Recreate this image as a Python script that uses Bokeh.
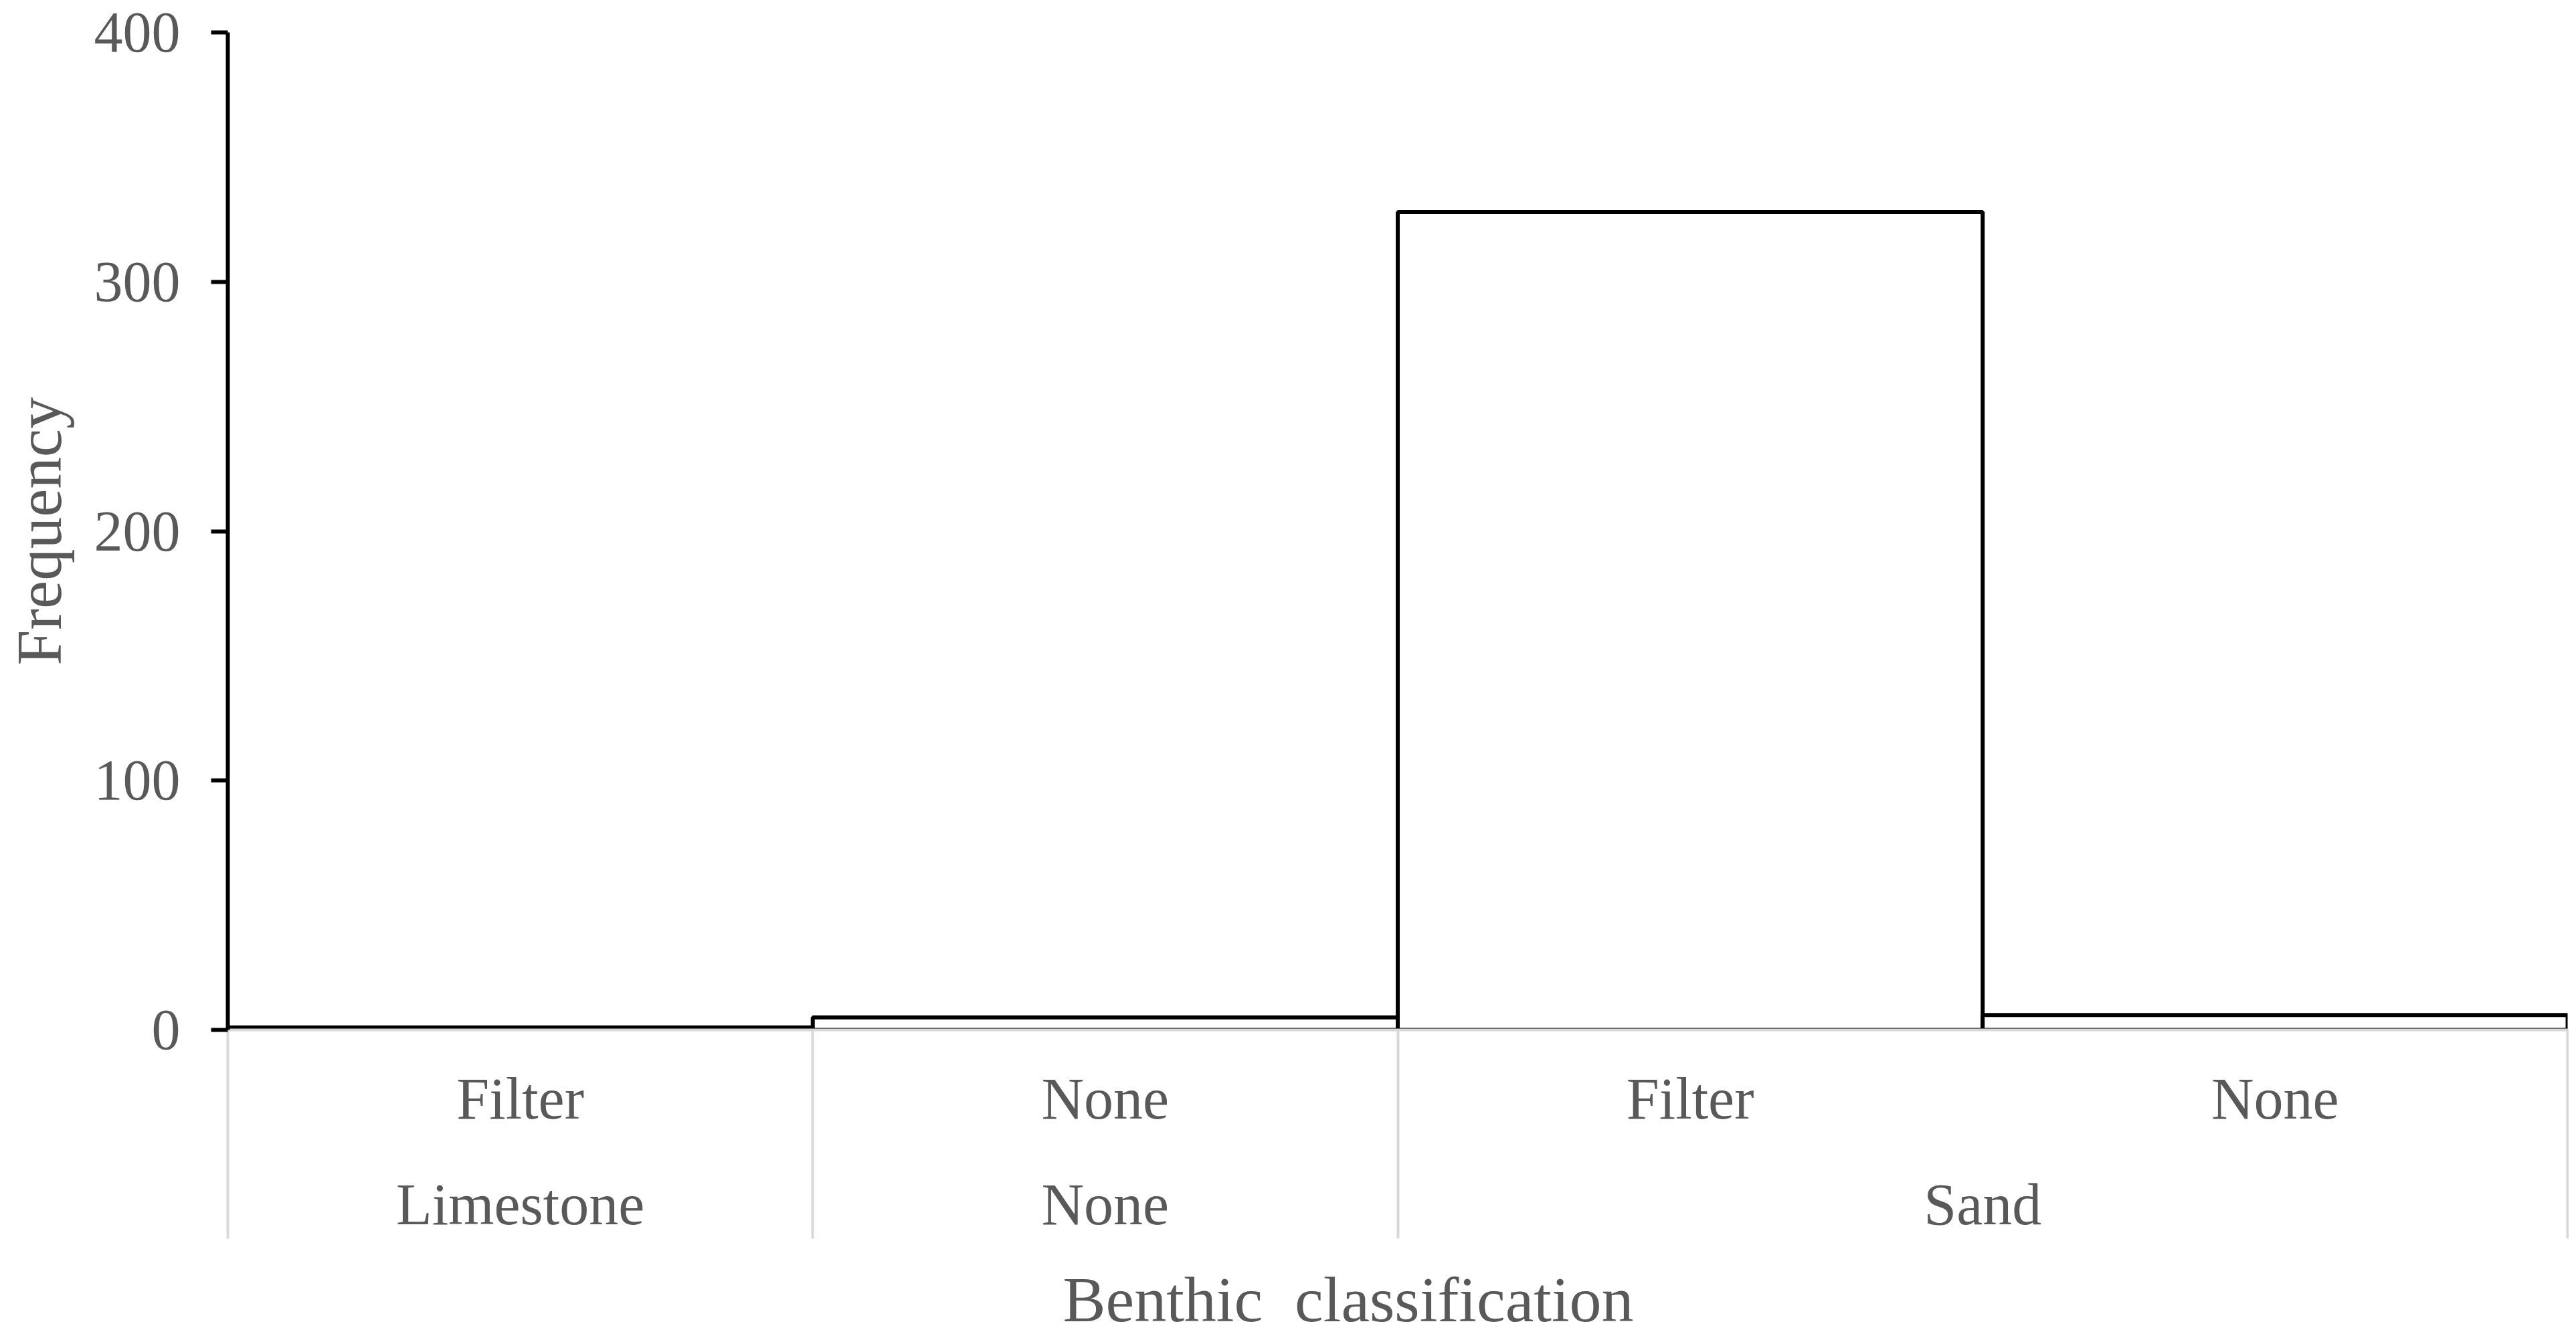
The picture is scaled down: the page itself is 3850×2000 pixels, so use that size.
from bokeh.plotting import figure
from bokeh.models import Range1d, LinearAxis, FixedTicker, ColumnDataSource, Title
from bokeh.embed import file_html
from bokeh.resources import INLINE

# ---- data ----
substrate = ["Limestone", "None", "Sand", "Sand"]
filter_type = ["Filter", "None", "Filter", "None"]
frequency = [1, 5, 328, 6]
y_ticks = [0, 100, 200, 300, 400]
x_title = "Benthic\u00a0 classification"
y_title = "Frequency"

FONT = "Liberation Serif"
TXT = "#595959"
GRAY = "#d9d9d9"

n = len(frequency)
centers = [i + 0.5 for i in range(n)]

# groups (outer level) in order of appearance
groups = []
for s in substrate:
    if s not in groups:
        groups.append(s)
group_centers = []
for g in groups:
    idx = [i for i, s in enumerate(substrate) if s == g]
    group_centers.append((idx[0] + idx[-1] + 1) / 2)
# group boundaries where separators are drawn
bounds = [0] + [i for i in range(1, n) if substrate[i] != substrate[i - 1]] + [n]

p = figure(x_range=Range1d(0, n), y_range=Range1d(y_ticks[0], y_ticks[-1]),
           frame_width=3497, frame_height=1491,
           x_axis_location=None, y_axis_location=None,
           output_backend="svg", toolbar_location=None,
           min_border_left=340, min_border_top=48, min_border_right=2,
           min_border_bottom=0)
p.outline_line_color = None
p.grid.grid_line_color = None

src = ColumnDataSource(dict(x=centers, top=frequency))
p.vbar(x="x", top="top", bottom=0, width=1, source=src,
       fill_color="white", line_color="black", line_width=6)

common = dict(major_tick_line_color=None, minor_tick_line_color=None,
              major_tick_in=0, major_tick_out=0, minor_tick_in=0, minor_tick_out=0,
              major_label_text_font=FONT, major_label_text_font_size="88px",
              major_label_text_color=TXT)

# inner level labels; its axis line is the grey baseline
inner_axis = LinearAxis(ticker=FixedTicker(ticks=centers),
                        major_label_overrides={c: t for c, t in zip(centers, filter_type)},
                        major_label_standoff=54, axis_line_color=GRAY, axis_line_width=4,
                        **common)
p.add_layout(inner_axis, "below")

# outer (group) level labels
group_axis = LinearAxis(ticker=FixedTicker(ticks=group_centers),
                        major_label_overrides={c: g for c, g in zip(group_centers, groups)},
                        major_label_standoff=58, axis_line_color=None, **common)
p.add_layout(group_axis, "below")

# grey separators drawn upward to the baseline
sep_axis = LinearAxis(ticker=FixedTicker(ticks=[], minor_ticks=bounds),
                      axis_line_color=None,
                      major_tick_line_color=None, major_tick_in=0, major_tick_out=0,
                      major_label_text_font_size="0px",
                      minor_tick_in=313, minor_tick_out=0,
                      minor_tick_line_color=GRAY, minor_tick_line_width=4)
p.add_layout(sep_axis, "below")

# blank spacer between the separators and the axis title (white ticks on white)
spacer_axis = LinearAxis(ticker=FixedTicker(ticks=[], minor_ticks=bounds),
                         axis_line_color=None,
                         major_tick_line_color=None, major_tick_in=0, major_tick_out=0,
                         major_label_text_font_size="0px",
                         minor_tick_in=0, minor_tick_out=36,
                         minor_tick_line_color="white", minor_tick_line_width=1)
p.add_layout(spacer_axis, "below")

# x axis title
p.add_layout(Title(text=x_title, text_font=FONT, text_font_size="96px",
                   text_color=TXT, text_font_style="normal",
                   align="left", offset=1248, vertical_align="middle", standoff=0),
             "below")

y_axis = LinearAxis(ticker=FixedTicker(ticks=y_ticks),
                    axis_line_color="black", axis_line_width=6,
                    major_tick_in=0, major_tick_out=25,
                    major_tick_line_color="black", major_tick_line_width=6,
                    minor_tick_line_color=None,
                    major_label_standoff=46,
                    major_label_text_font=FONT, major_label_text_font_size="86px",
                    major_label_text_color=TXT,
                    axis_label=y_title, axis_label_text_font=FONT,
                    axis_label_text_font_size="95px", axis_label_text_color=TXT,
                    axis_label_text_font_style="normal", axis_label_standoff=26)
p.add_layout(y_axis, "left")

open("out.html", "w").write(file_html(p, INLINE))
